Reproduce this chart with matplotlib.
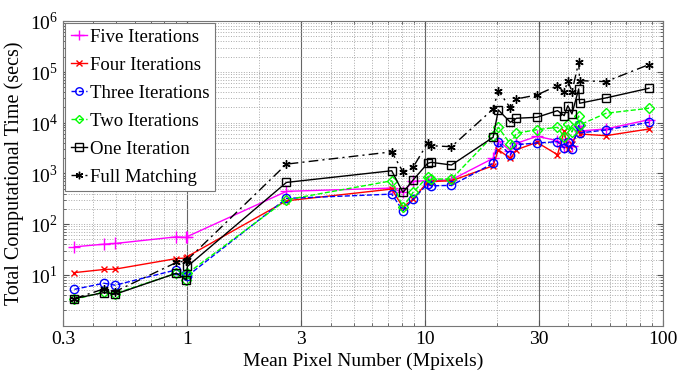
import matplotlib
matplotlib.use("Agg")
import matplotlib.pyplot as plt
from matplotlib.ticker import FixedLocator, NullFormatter, LogLocator

plt.rcParams['font.family'] = ['Liberation Serif', 'DejaVu Serif']
plt.rcParams['mathtext.fontset'] = 'custom'
plt.rcParams['mathtext.rm'] = 'Liberation Serif'

x_mpix = [0.335, 0.446, 0.497, 0.899, 0.99, 1.0, 2.61, 7.23, 8.06, 8.89, 10.24, 10.6, 12.9,
          19.3, 20.3, 22.8, 24.2, 29.5, 36.0, 38.4, 39.8, 41.4, 44.2, 44.6, 57.5, 87.3]

five_iter = [35.7, 40.3, 41.6, 56.2, 54.6, 57, 442, 513, 420, 700, 714, 714, 748,
             1977, 4400, 2790, 3910, 5370, 4400, 3300, 4750, 3450, 8570, 6830, 7480, 11400]
four_iter = [11.1, 12.8, 13.0, 21, 21.5, 23, 288, 490, 215, 310, 682, 690, 714,
             1410, 2917, 1977, 2917, 4080, 2330, 6830, 3015, 3785, 7140, 5960, 5520, 7480]
three_iter = [5.2, 6.86, 6.27, 12.6, 10.3, 9.5, 321, 390, 183, 310, 615, 568, 580,
              1573, 4080, 2296, 3665, 3960, 4200, 3150, 4140, 3015, 8970, 6240, 7140, 10140]
two_iter = [3.3, 4.6, 4.3, 10.8, 8.0, 10.7, 302, 714, 214, 422, 857, 772, 772,
            5520, 8070, 3785, 6150, 7250, 8070, 5200, 9380, 6530, 13500, 8970, 15230, 19140]
one_iter = [3.42, 4.5, 4.16, 10.8, 8.0, 14.7, 663, 1125, 422, 738, 1573, 1648, 1460,
            5130, 17740, 10140, 12160, 12700, 17180, 13680, 21500, 14800, 46000, 24000, 30550, 47400]
full_match = [3.42, 5.3, 4.7, 17.6, 19.0, 19.8, 1520, 2650, 1075, 1313, 3960, 3500, 3347,
              18500, 42600, 19400, 29200, 35000, 53400, 39600, 67000, 40600, 154600, 67000, 64000, 138700]

labels = ["Five Iterations", "Four Iterations", "Three Iterations",
          "Two Iterations", "One Iteration", "Full Matching"]
xtick_vals = [0.3, 1, 3, 10, 30, 100]
xtick_labels = ["0.3", "1", "3", "10", "30", "100"]
ytick_vals = [1e1, 1e2, 1e3, 1e4, 1e5, 1e6]
ytick_labels = ["$10^{1}$", "$10^{2}$", "$10^{3}$", "$10^{4}$", "$10^{5}$", "$10^{6}$"]

fig = plt.figure(figsize=(6.91, 3.82), dpi=100)
ax = fig.add_axes([0.0912, 0.1474, 0.8683, 0.7976])

styles = [
    (five_iter, dict(color='#ff00ff', ls='-', marker='+', ms=8, mew=1.0)),
    (four_iter, dict(color='#ff0000', ls='-', marker='x', ms=5, mew=1.0)),
    (three_iter, dict(color='#0000ff', ls='--', marker='o', ms=6, mfc='none', mew=1.0)),
    (two_iter, dict(color='#00ff00', ls='--', marker='D', ms=5, mfc='none', mew=1.0)),
    (one_iter, dict(color='#000000', ls='-', marker='s', ms=6, mfc='none', mew=1.0)),
    (full_match, dict(color='#000000', ls=(0, (7, 3, 1.5, 3)), marker=(6, 2, 0), ms=6, mew=1.0)),
]
for (vals, st), lab in zip(styles, labels):
    ax.plot(x_mpix, vals, lw=1.0, label=lab, **st)

ax.set_xscale('log')
ax.set_yscale('log')
ax.set_xlim(0.3, 100)
ax.set_ylim(1.0, 1e6)

ax.xaxis.set_major_locator(FixedLocator(xtick_vals))
ax.set_xticklabels(xtick_labels)
ax.xaxis.set_minor_locator(LogLocator(base=10, subs=range(2, 10), numticks=20))
ax.xaxis.set_minor_formatter(NullFormatter())
ax.yaxis.set_major_locator(FixedLocator(ytick_vals))
ax.set_yticklabels(ytick_labels)
ax.yaxis.set_minor_locator(LogLocator(base=10, subs=range(2, 10), numticks=20))
ax.yaxis.set_minor_formatter(NullFormatter())

ax.tick_params(which='both', direction='in', top=True, right=True, labelsize=14, colors='#555555',
               labelcolor='black')
ax.tick_params(which='major', length=4)
ax.tick_params(which='minor', length=2)

ax.grid(True, axis='x', which='major', color='#666666', ls='-', lw=0.8)
ax.grid(True, axis='x', which='minor', color='#aaaaaa', ls=':', lw=0.7)
ax.grid(True, axis='y', which='both', color='#aaaaaa', ls=':', lw=0.7)
ax.set_axisbelow(True)
for sp in ax.spines.values():
    sp.set_color('#777777')

ax.set_xlabel("Mean Pixel Number (Mpixels)", fontsize=14)
ax.set_ylabel("Total Computational Time (secs)", fontsize=14.5)

leg = ax.legend(loc='upper left', fontsize=13.5, handlelength=0.9, handletextpad=0.15,
                borderpad=0.3, labelspacing=0.58, borderaxespad=0.1, fancybox=False,
                framealpha=1.0, edgecolor='#777777', markerscale=0.9)
leg.get_frame().set_linewidth(0.8)

fig.savefig("out.png", dpi=100)
